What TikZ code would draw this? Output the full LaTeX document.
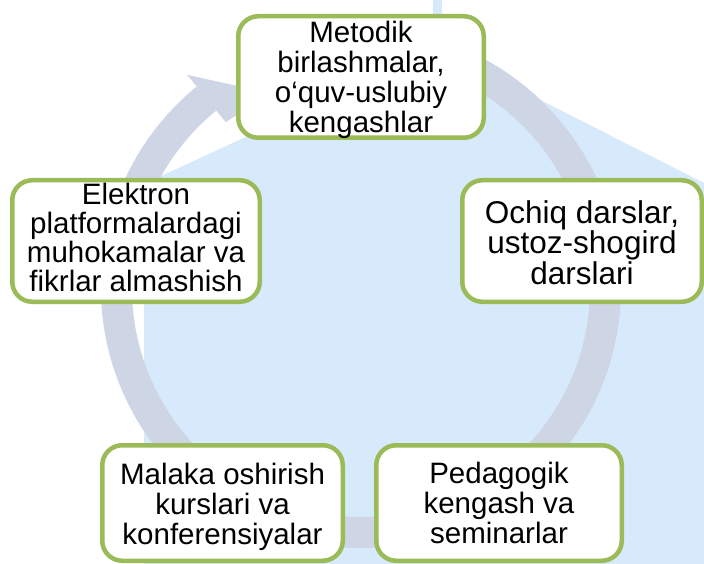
\documentclass[tikz,border=0pt]{standalone}
\usepackage{fontspec}
\setmainfont{Liberation Sans}
\definecolor{bgblue}{RGB}{214,234,251}
\definecolor{ringc}{RGB}{206,214,230}
\definecolor{boxgreen}{RGB}{155,187,89}
\begin{document}
\begin{tikzpicture}[x=1pt,y=-1pt,
  cbox/.style={draw=boxgreen, line width=4.5pt, rounded corners=20pt, fill=white, inner sep=0pt},
  ctext/.style={align=center, inner sep=0pt, text=black, font=\fontsize{29.5}{30}\selectfont},
  ctextb/.style={ctext, font=\fontsize{31.5}{29.3}\selectfont},
  ctextc/.style={ctext, font=\fontsize{29.5}{29}\selectfont},
]
\useasboundingbox (0,0) rectangle (704,564);
\fill[white] (0,0) rectangle (704,564);
% background watermark
\fill[bgblue] (433,0) rectangle (442,50);
\fill[bgblue] (144,564) -- (144,184) -- (438,48) -- (704,183) -- (704,564) -- cycle;
% circular arrow
\coordinate (c) at (361,288);
\draw[ringc, line width=31pt] ([shift={(-80:244.5)}]c) arc[start angle=-80, end angle=230.8, radius=244.5];
\fill[ringc] ([shift={(230.8:275)}]c) -- ([shift={(245:215)}]c) -- ([shift={(230.8:214)}]c) -- cycle;
% boxes
\node[cbox, minimum width=245.5pt, minimum height=121.5pt] (metod) at (361,77) {};
\node[cbox, minimum width=239.5pt, minimum height=121.5pt] (ochiq) at (582,241) {};
\node[cbox, minimum width=245.5pt, minimum height=115.5pt] (pedag) at (499,503) {};
\node[cbox, minimum width=240.5pt, minimum height=115.5pt] (malaka) at (222.5,503) {};
\node[cbox, minimum width=247.5pt, minimum height=121.5pt] (elek) at (136,241) {};
% texts
\node[ctext] (metod-t) at (361,79.4) {Metodik\\birlashmalar,\\o‘quv-uslubiy\\kengashlar};
\node[ctextb] (ochiq-t) at (582,242.5) {Ochiq darslar,\\ustoz-shogird\\darslari};
\node[ctext] (pedag-t) at (499,503.3) {Pedagogik\\kengash va\\seminarlar};
\node[ctext] (malaka-t) at (222.5,506.4) {Malaka oshirish\\kurslari va\\konferensiyalar};
\node[ctextc] (elek-t) at (136,237.8) {Elektron\\platformalardagi\\muhokamalar va\\fikrlar almashish};
\end{tikzpicture}
\end{document}
